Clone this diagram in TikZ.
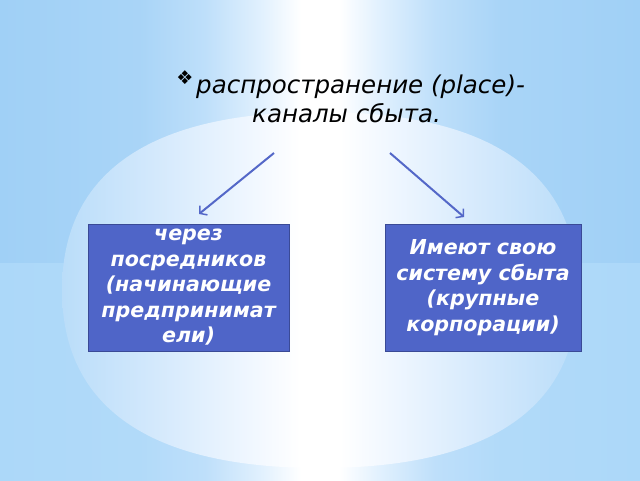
\documentclass[tikz,border=0pt]{standalone}
\usepackage{fontspec}
\setmainfont{DejaVu Sans}
\usetikzlibrary{arrows.meta}
\definecolor{edgeA}{RGB}{160,208,246}
\definecolor{edgeB}{RGB}{172,216,249}
\definecolor{midA}{RGB}{190,223,250}
\definecolor{midB}{RGB}{226,241,254}
\definecolor{ellA}{RGB}{186,221,249}
\definecolor{ellB}{RGB}{210,232,252}
\definecolor{ellC}{RGB}{240,247,255}
\definecolor{boxfill}{RGB}{79,101,200}
\definecolor{boxline}{RGB}{58,74,150}
\definecolor{arrowc}{RGB}{84,104,200}
\pgfdeclarehorizontalshading{bgtop}{100bp}{color(0bp)=(edgeA); color(25bp)=(edgeA); color(36bp)=(edgeA!70!midA); color(41bp)=(midA); color(45.5bp)=(midB); color(48.5bp)=(white); color(51.5bp)=(white); color(54.5bp)=(midB); color(59bp)=(midA); color(64bp)=(edgeA!70!midA); color(75bp)=(edgeA); color(100bp)=(edgeA)}
\pgfdeclarehorizontalshading{bgbot}{100bp}{color(0bp)=(edgeB); color(25bp)=(edgeB); color(36bp)=(edgeB!70!midA); color(41bp)=(midA); color(45.5bp)=(midB); color(48.5bp)=(white); color(51.5bp)=(white); color(54.5bp)=(midB); color(59bp)=(midA); color(64bp)=(edgeB!70!midA); color(75bp)=(edgeB); color(100bp)=(edgeB)}
\pgfdeclarehorizontalshading{ellshade}{100bp}{color(0bp)=(ellA); color(25bp)=(ellA); color(33.5bp)=(ellB); color(43.2bp)=(ellC); color(48.1bp)=(white); color(51.9bp)=(white); color(56.8bp)=(ellC); color(66.5bp)=(ellB); color(75bp)=(ellA); color(100bp)=(ellA)}
\tikzset{
  boxnode/.style={draw=boxline, line width=1pt, fill=boxfill, text=white,
    font=\fontsize{20.6}{25.5}\selectfont\bfseries\itshape, align=center,
    inner sep=0pt},
  titletext/.style={font=\fontsize{24.5}{29}\selectfont\itshape, text=black, inner sep=0pt},
  arrowline/.style={draw=arrowc, line width=2pt, -{Straight Barb[length=5pt,width=12pt,line width=1.5pt]}}
}
\begin{document}
\begin{tikzpicture}[x=1pt,y=-1pt]
\useasboundingbox (0,0) rectangle (640,480);
% background
\shade[shading=bgtop] (0,0) rectangle (640,263);
\shade[shading=bgbot] (0,263) rectangle (640,480);
\shade[shading=ellshade] (320,112)
  .. controls (150,112) and (62,172.5) .. (62,290)
  .. controls (62,407.5) and (150,468) .. (320,468)
  .. controls (490,468) and (578,407.5) .. (578,290)
  .. controls (578,172.5) and (490,112) .. (320,112) -- cycle;
% title
\node[titletext, anchor=base west] (title) at (196,93) {распространение (place)-};
\node[titletext, anchor=base west] (title2) at (252,122) {каналы сбыта.};
\node[inner sep=0pt, font=\fontsize{19}{19}\selectfont, text=black] (bullet) at (185,78) {❖};
% boxes
\node[boxnode, minimum width=201pt, minimum height=127pt] (left) at (188.5,287.5)
  {через\\посредников\\(начинающие\\предпринимат\\ели)};
\node[boxnode, minimum width=196pt, minimum height=127pt] (right) at (483,287.5)
  {Имеют свою\\систему сбыта\\(крупные\\корпорации)};
% arrows
\coordinate (a1s) at (274,153);
\coordinate (a1e) at (199,214);
\coordinate (a2s) at (390,153);
\coordinate (a2e) at (464,217);
\draw[arrowline] (a1s) -- (a1e);
\draw[arrowline] (a2s) -- (a2e);
\end{tikzpicture}
\end{document}
